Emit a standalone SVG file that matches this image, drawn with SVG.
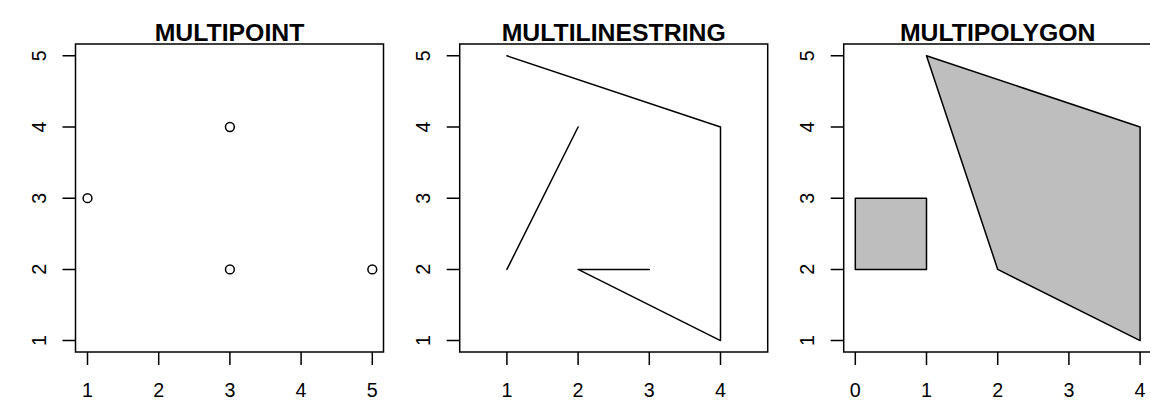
<svg xmlns="http://www.w3.org/2000/svg" width="1150" height="420" viewBox="0 0 1150 420">
<style>
.box{fill:none;stroke:#000;stroke-width:1.5}
.tick{stroke:#000;stroke-width:1.5;fill:none}
.title{font-family:"Liberation Sans",Arial,sans-serif;font-weight:bold;font-size:24.8px;text-anchor:middle;fill:#000}
.lab{font-family:"Liberation Sans",Arial,sans-serif;font-size:19.7px;text-anchor:middle;fill:#000}
.pt{fill:none;stroke:#000;stroke-width:1.5}
.ln{fill:none;stroke:#000;stroke-width:1.5;stroke-linejoin:round;stroke-linecap:round}
.poly{fill:#BEBEBE;stroke:#000;stroke-width:1.5;stroke-linejoin:round}
</style>
<rect width="1150" height="420" fill="#fff"/>

<g id="multipoint">
<text class="title" x="229.5" y="40.7">MULTIPOINT</text>
<rect class="box" x="75.5" y="44" width="308" height="308"/>
<path class="tick" d="M87.5 352V365M158.7 352V365M229.9 352V365M301.1 352V365M372.3 352V365"/>
<text class="lab" x="87.5" y="397.3">1</text>
<text class="lab" x="158.7" y="397.3">2</text>
<text class="lab" x="229.9" y="397.3">3</text>
<text class="lab" x="301.1" y="397.3">4</text>
<text class="lab" x="372.3" y="397.3">5</text>
<path class="tick" d="M62.5 340.6H75.5M62.5 269.4H75.5M62.5 198.2H75.5M62.5 127H75.5M62.5 55.8H75.5"/>
<text class="lab" transform="translate(45.5 340.6) rotate(-90)">1</text>
<text class="lab" transform="translate(45.5 269.4) rotate(-90)">2</text>
<text class="lab" transform="translate(45.5 198.2) rotate(-90)">3</text>
<text class="lab" transform="translate(45.5 127) rotate(-90)">4</text>
<text class="lab" transform="translate(45.5 55.8) rotate(-90)">5</text>
<circle class="pt" cx="229.9" cy="127" r="4.4"/>
<circle class="pt" cx="87.5" cy="198.2" r="4.4"/>
<circle class="pt" cx="229.9" cy="269.4" r="4.4"/>
<circle class="pt" cx="372.3" cy="269.4" r="4.4"/>
</g>

<g id="multilinestring">
<text class="title" x="613.7" y="40.7">MULTILINESTRING</text>
<rect class="box" x="459.7" y="44" width="308" height="308"/>
<path class="tick" d="M506.9 352V365M578.1 352V365M649.3 352V365M720.5 352V365"/>
<text class="lab" x="506.9" y="397.3">1</text>
<text class="lab" x="578.1" y="397.3">2</text>
<text class="lab" x="649.3" y="397.3">3</text>
<text class="lab" x="720.5" y="397.3">4</text>
<path class="tick" d="M446.7 340.6H459.7M446.7 269.4H459.7M446.7 198.2H459.7M446.7 127H459.7M446.7 55.8H459.7"/>
<text class="lab" transform="translate(429.7 340.6) rotate(-90)">1</text>
<text class="lab" transform="translate(429.7 269.4) rotate(-90)">2</text>
<text class="lab" transform="translate(429.7 198.2) rotate(-90)">3</text>
<text class="lab" transform="translate(429.7 127) rotate(-90)">4</text>
<text class="lab" transform="translate(429.7 55.8) rotate(-90)">5</text>
<polyline class="ln" points="506.9,55.8 720.5,127 720.5,340.6 578.1,269.4 649.3,269.4"/>
<polyline class="ln" points="506.9,269.4 578.1,127"/>
</g>

<g id="multipolygon">
<text class="title" x="997.7" y="40.7">MULTIPOLYGON</text>
<rect class="box" x="843.7" y="44" width="308" height="308"/>
<path class="tick" d="M855.3 352V365M926.5 352V365M997.7 352V365M1068.9 352V365M1140.1 352V365"/>
<text class="lab" x="855.3" y="397.3">0</text>
<text class="lab" x="926.5" y="397.3">1</text>
<text class="lab" x="997.7" y="397.3">2</text>
<text class="lab" x="1068.9" y="397.3">3</text>
<text class="lab" x="1140.1" y="397.3">4</text>
<path class="tick" d="M830.7 340.6H843.7M830.7 269.4H843.7M830.7 198.2H843.7M830.7 127H843.7M830.7 55.8H843.7"/>
<text class="lab" transform="translate(813.7 340.6) rotate(-90)">1</text>
<text class="lab" transform="translate(813.7 269.4) rotate(-90)">2</text>
<text class="lab" transform="translate(813.7 198.2) rotate(-90)">3</text>
<text class="lab" transform="translate(813.7 127) rotate(-90)">4</text>
<text class="lab" transform="translate(813.7 55.8) rotate(-90)">5</text>
<polygon class="poly" points="855.3,269.4 926.5,269.4 926.5,198.2 855.3,198.2"/>
<polygon class="poly" points="926.5,55.8 1140.1,127 1140.1,340.6 997.7,269.4"/>
</g>
</svg>
